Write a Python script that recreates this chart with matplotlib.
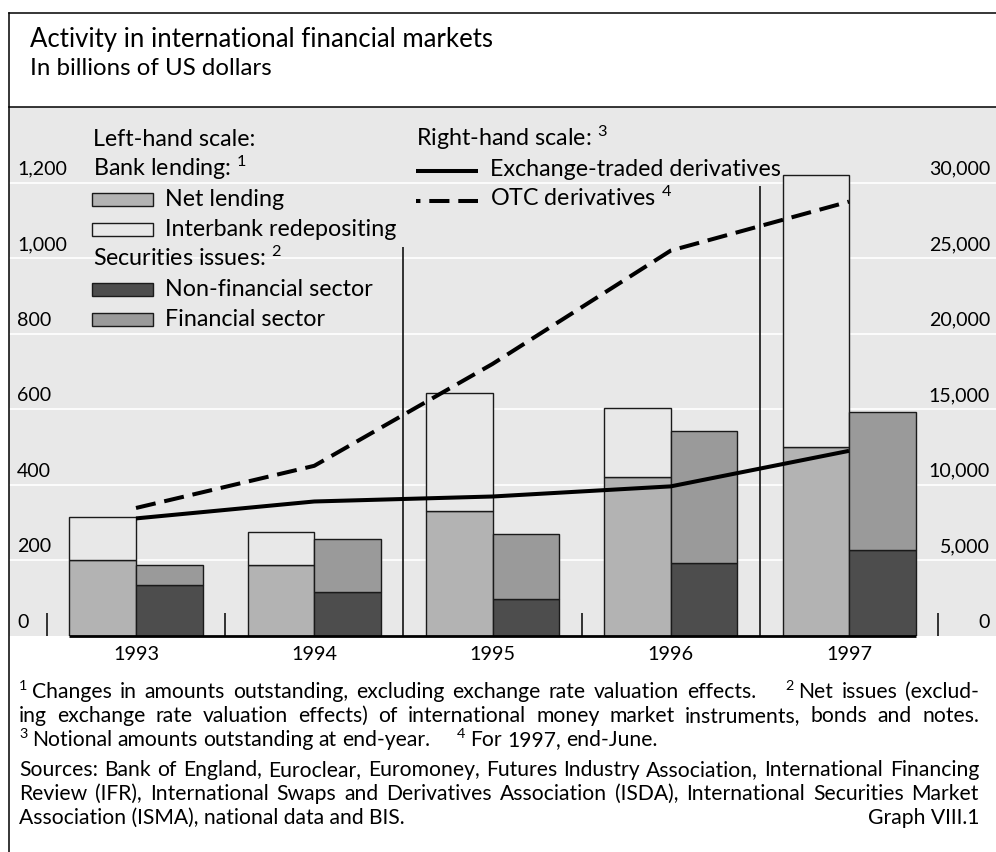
import matplotlib
matplotlib.use("Agg")
import matplotlib.pyplot as plt
from matplotlib.transforms import IdentityTransform, offset_copy
from matplotlib.patches import Rectangle
from matplotlib.lines import Line2D
import numpy as np

# ---------------- data ----------------
years = ["1993", "1994", "1995", "1996", "1997"]
net_lending = [200, 189, 330, 420, 500]          # billions, left scale
interbank = [115, 85, 314, 184, 721]
non_financial = [136, 117, 98, 193, 228]
financial = [52, 140, 171, 350, 366]
exchange_traded = [7780, 8900, 9230, 9900, 12250]  # right scale
otc = [8470, 11260, 18000, 25500, 28740]
left_ticks = [0, 200, 400, 600, 800, 1000, 1200]
left_tick_labels = ["0", "200", "400", "600", "800", "1,000", "1,200"]
right_ticks = [0, 5000, 10000, 15000, 20000, 25000, 30000]
right_tick_labels = ["0", "5,000", "10,000", "15,000", "20,000", "25,000", "30,000"]
divider_heights = [60, 60, 1030, 60, 1190, 60]

# ---------------- style ----------------
W, H = 996, 852
BG = "#e8e8e8"
C_NET = "#b3b3b3"
C_FIN = "#9a9a9a"
C_NONFIN = "#4d4d4d"
EDGE = "#1a1a1a"

plt.rcParams['font.family'] = ['Lato', 'DejaVu Sans']
plt.rcParams['mathtext.fontset'] = 'custom'
plt.rcParams['mathtext.rm'] = 'Lato'
plt.rcParams['mathtext.it'] = 'Lato:italic'
plt.rcParams['mathtext.bf'] = 'Lato:bold'
plt.rcParams['mathtext.default'] = 'regular'

fig = plt.figure(figsize=(W / 100, H / 100), dpi=100)
fig.patch.set_facecolor("white")
renderer = fig.canvas.get_renderer()
ID = IdentityTransform()


def ftext(x, y, s, **kw):
    """Text placed in pixel coordinates measured from the top-left corner."""
    kw.setdefault("va", "baseline")
    kw.setdefault("color", "black")
    return fig.text(x, H - y, s, transform=ID, **kw)


def width(t):
    return t.get_window_extent(renderer).width


def fit(texts, ref, target):
    w = width(ref)
    for t in texts:
        t.set_fontsize(t.get_fontsize() * target / w)


# ---------------- axes ----------------
x_left_px, x_right_px, y_top_px, y_zero_px = 9, 996, 107, 636
center0_px, group_px = 136, 178.25
ax = fig.add_axes([x_left_px / W, (H - y_zero_px) / H,
                   (x_right_px - x_left_px) / W, (y_zero_px - y_top_px) / H])
ax.set_facecolor(BG)
ax.set_xlim((x_left_px - center0_px) / group_px, (x_right_px - center0_px) / group_px)
ax.set_ylim(0, 1400)
for s in ax.spines.values():
    s.set_visible(False)
ax.set_xticks([])
ax.set_yticks([])

for v in left_ticks[1:]:
    ax.axhline(v, color="white", lw=1.2, zorder=1)

x = np.arange(len(years))
bw = 66.5 / group_px
ax.bar(x - bw / 2, net_lending, bw, color=C_NET, edgecolor=EDGE, lw=1.0, zorder=2)
ax.bar(x - bw / 2, interbank, bw, bottom=net_lending, color=BG, edgecolor=EDGE, lw=1.0, zorder=2)
ax.bar(x + bw / 2, non_financial, bw, color=C_NONFIN, edgecolor=EDGE, lw=1.0, zorder=2)
ax.bar(x + bw / 2, financial, bw, bottom=non_financial, color=C_FIN, edgecolor=EDGE, lw=1.0, zorder=2)

ax.plot([x[0] - bw, x[-1] + bw], [0, 0], color="black", lw=2.0,
        solid_capstyle="butt", clip_on=False, zorder=4)
bounds = np.arange(len(years) + 1) - 0.5
ax.vlines(bounds, 0, divider_heights, color="black", lw=1.1, zorder=5)

ax2 = ax.twinx()
ax2.set_ylim(0, 35000)
for s in ax2.spines.values():
    s.set_visible(False)
ax2.set_yticks([])
ax2.plot(x, exchange_traded, color="black", lw=2.9, solid_capstyle="butt",
         solid_joinstyle="round", zorder=3)
ax2.plot(x, otc, color="black", lw=2.9, linestyle=(0, (5, 2.2)),
         dash_capstyle="butt", zorder=3)

# tick labels
tick_texts = []
tl = offset_copy(ax.get_yaxis_transform(), fig=fig, y=8, units="dots")
for v, lbl in zip(left_ticks, left_tick_labels):
    tick_texts.append(ax.text((17 - x_left_px) / (x_right_px - x_left_px), v, lbl,
                              transform=tl, ha="left", va="baseline", fontsize=14))
tr = offset_copy(ax2.get_yaxis_transform(), fig=fig, y=8, units="dots")
right_ref = None
for v, lbl in zip(right_ticks, right_tick_labels):
    t = ax2.text((990 - x_left_px) / (x_right_px - x_left_px), v, lbl,
                 transform=tr, ha="right", va="baseline", fontsize=14)
    tick_texts.append(t)
    if lbl == "30,000":
        right_ref = t
fit(tick_texts, right_ref, 62)

ty = offset_copy(ax.get_xaxis_transform(), fig=fig, y=-24, units="dots")
year_texts = [ax.text(i, 0, yr, transform=ty, ha="center", va="baseline", fontsize=14)
              for i, yr in enumerate(years)]
fit(year_texts, year_texts[0], 46)

# ---------------- frame ----------------
fig.add_artist(Line2D([8.5, 8.5], [-5, H - 12.5], color="black", lw=1.1, transform=ID))
fig.add_artist(Line2D([8.5, W + 5], [H - 12.5, H - 12.5], color="black", lw=1.1, transform=ID))
fig.add_artist(Line2D([8.5, W + 5], [H - 107, H - 107], color="black", lw=1.1, transform=ID))

# ---------------- titles ----------------
title = ftext(30, 47, "Activity in international financial markets", fontsize=18.5)
sub = ftext(30, 75, "In billions of US dollars", fontsize=12)
fit([sub], sub, 240)

# ---------------- legend ----------------
leg_texts = []
leg_texts.append(ftext(93, 146, "Left-hand scale:", fontsize=14))
leg_texts.append(ftext(93, 176, "Bank lending: $^{1}$", fontsize=14))
leg_texts.append(ftext(93, 266, "Securities issues: $^{2}$", fontsize=14))
items = [("Net lending", C_NET, 206), ("Interbank redepositing", BG, 236),
         ("Non-financial sector", C_NONFIN, 296), ("Financial sector", C_FIN, 326)]
ref = None
for lbl, col, yb in items:
    fig.add_artist(Rectangle((92, H - yb), 61, 13, facecolor=col, edgecolor=EDGE,
                             lw=1.0, transform=ID))
    t = ftext(165, yb, lbl, fontsize=14)
    leg_texts.append(t)
    if lbl.startswith("Interbank"):
        ref = t
leg_texts.append(ftext(416, 146, "Right-hand scale: $^{3}$", fontsize=14))
leg_texts.append(ftext(490, 176, "Exchange-traded derivatives", fontsize=14))
leg_texts.append(ftext(490, 206, "OTC derivatives $^{4}$", fontsize=14))
fit(leg_texts, ref, 232)
fig.add_artist(Line2D([416, 478], [H - 171, H - 171], color="black", lw=2.9,
                      solid_capstyle="butt", transform=ID))
fig.add_artist(Line2D([416, 478], [H - 201, H - 201], color="black", lw=2.9,
                      linestyle=(3.9, (5, 2.2)), dash_capstyle="butt", transform=ID))

# ---------------- footnotes ----------------
FX0, FX1 = 19, 979
src1 = ("Sources: Bank of England, Euroclear, Euromoney, Futures Industry Association, "
        "International Financing")
probe = ftext(FX0, -100, src1, fontsize=12)
fit([probe], probe, 945)
FS = probe.get_fontsize()
probe.remove()
sp_a = ftext(0, -100, "x x", fontsize=FS)
sp_b = ftext(0, -100, "xx", fontsize=FS)
SPACE = width(sp_a) - width(sp_b)
sp_a.remove()
sp_b.remove()
SUP_FS = FS * 0.68
SUP_RAISE = FS * 100 / 72 * 0.36


class Tok:
    """A word, optionally preceded by a superscript footnote marker."""

    def __init__(self, word, y, sup=None):
        self.parts = []
        if sup is not None:
            self.parts.append((ftext(0, y - SUP_RAISE, sup, fontsize=SUP_FS), SUP_RAISE))
        self.parts.append((ftext(0, y, word, fontsize=FS), 0.0))
        self.y = y
        self.inner = SPACE * 0.85 if sup is not None else 0.0
        self.w = sum(width(t) for t, _ in self.parts) + self.inner

    def place(self, x):
        for k, (t, r) in enumerate(self.parts):
            t.set_position((x, H - (self.y - r)))
            x += width(t)
            if k == 0 and len(self.parts) > 1:
                x += self.inner


def line_out(tokens, y, justify=True, extra_before=None):
    toks = [Tok(w, y, s) for s, w in tokens]
    n = len(toks) - 1
    fixed = [0.0] * n
    if extra_before:
        for i, e in extra_before.items():
            fixed[i - 1] = e
    if justify:
        gap = (FX1 - FX0 - sum(t.w for t in toks) - sum(fixed)) / n
    else:
        gap = SPACE
    xpos = FX0
    for i, t in enumerate(toks):
        t.place(xpos)
        xpos += t.w
        if i < n:
            xpos += gap + fixed[i]


def plain(s):
    return [(None, w) for w in s.split()]


line1 = ([("1", "Changes")] +
         plain("in amounts outstanding, excluding exchange rate valuation effects.") +
         [("2", "Net")] + plain("issues (exclud-"))
line_out(line1, 698, extra_before={9: 4 * SPACE})
line_out(plain("ing exchange rate valuation effects) of international money market "
               "instruments, bonds and notes."), 722)
line3 = ([("3", "Notional")] + plain("amounts outstanding at end-year.") +
         [("4", "For")] + plain("1997, end-June."))
line_out(line3, 746, justify=False, extra_before={5: 4 * SPACE})

line_out(plain(src1), 776)
line_out(plain("Review (IFR), International Swaps and Derivatives Association (ISDA), "
               "International Securities Market"), 800)
ftext(FX0, 824, "Association (ISMA), national data and BIS.", fontsize=FS)
ftext(FX1, 824, "Graph VIII.1", fontsize=FS, ha="right")

fig.savefig("out.png", dpi=100, facecolor="white")
